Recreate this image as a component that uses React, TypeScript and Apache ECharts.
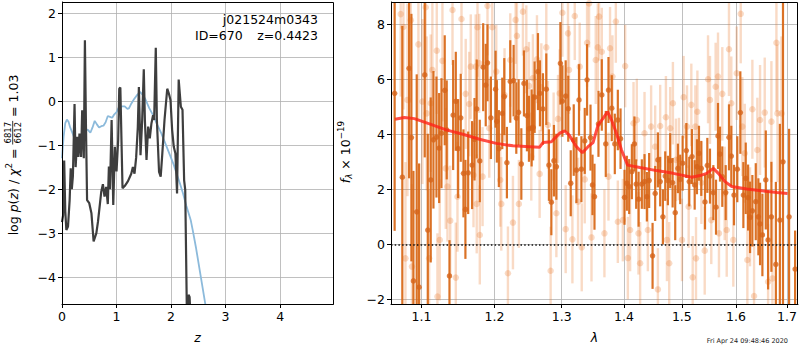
import React, { useEffect, useRef } from 'react';
import * as echarts from 'echarts';

const FONT = 'DejaVu Sans';

// ---------- Left panel: redshift probability ----------
const zTicks = [0, 1, 2, 3, 4];
const logpTicks = [-4, -3, -2, -1, 0, 1, 2];
// log p(z) (dark curve): [z, value]
const logPz: number[][] = [
  [0.0, -2.75], [0.02, -2.6], [0.04, -1.35], [0.06, -2.5], [0.08, -2.93], [0.11, -2.85], [0.14, -2.25],
  [0.16, -1.53], [0.18, -2.0], [0.2, -1.7], [0.23, -0.07], [0.25, -1.5], [0.28, -0.81], [0.3, -1.27],
  [0.32, -0.74], [0.35, -1.27], [0.37, -0.21], [0.4, -1.3], [0.42, 1.38], [0.44, -0.6], [0.46, -2.25],
  [0.5, -2.32], [0.54, -2.55], [0.58, -3.19], [0.63, -3.0], [0.66, -2.74], [0.72, -2.06], [0.75, -1.89],
  [0.78, -2.17], [0.81, -1.95], [0.84, -2.34], [0.86, -1.49], [0.88, -2.0], [0.91, -0.43], [0.94, -2.36],
  [0.97, -1.04], [1.0, -1.6], [1.03, -0.89], [1.05, 0.28], [1.07, 0.31], [1.11, -1.98], [1.15, -1.93],
  [1.21, -1.82], [1.27, -1.65], [1.3, -1.5], [1.33, -1.65], [1.36, -1.28], [1.39, -0.6], [1.41, 0.32],
  [1.44, -1.23], [1.47, -0.45], [1.5, 0.72], [1.52, -0.43], [1.55, -1.34], [1.58, -0.58], [1.61, -0.85],
  [1.64, -0.51], [1.67, -0.32], [1.69, -0.43], [1.72, 1.21], [1.74, -0.43], [1.78, -1.61], [1.81, -1.72],
  [1.84, -1.19], [1.88, -0.43], [1.93, 0.28], [1.96, 0.17], [1.99, 0.02], [2.02, -0.66], [2.05, -1.04],
  [2.08, -1.19], [2.11, -2.1], [2.14, 0.49], [2.18, -0.13], [2.21, -0.2], [2.24, -1.8], [2.26, -2.02],
  [2.29, -4.8], [2.32, -4.4], [2.34, -4.45], [2.36, -5.0], [2.4, -6.0],
];
// chi^2 curve (blue): [z, value]
const chi2Curve: number[][] = [
  [0.0, -1.3], [0.03, -0.8], [0.06, -0.5], [0.09, -0.42], [0.12, -0.47], [0.15, -0.6], [0.2, -0.75],
  [0.26, -0.98], [0.3, -1.06], [0.33, -1.0], [0.36, -0.89], [0.4, -0.72], [0.44, -0.64], [0.48, -0.66],
  [0.52, -0.72], [0.56, -0.6], [0.6, -0.45], [0.64, -0.53], [0.68, -0.6], [0.72, -0.57], [0.76, -0.56],
  [0.8, -0.48], [0.84, -0.34], [0.88, -0.36], [0.92, -0.38], [0.96, -0.3], [1.0, -0.25], [1.04, -0.15],
  [1.1, -0.12], [1.15, -0.12], [1.2, -0.18], [1.23, -0.16], [1.27, -0.06], [1.32, 0.04], [1.38, 0.14],
  [1.43, 0.21], [1.48, 0.14], [1.53, 0.04], [1.6, -0.16], [1.67, -0.32], [1.74, -0.52], [1.82, -0.73],
  [1.9, -0.98], [1.98, -1.23], [2.05, -1.45], [2.1, -1.64], [2.16, -1.86], [2.22, -2.1], [2.28, -2.38],
  [2.36, -2.7], [2.4, -2.95], [2.46, -3.35], [2.52, -3.8], [2.58, -4.25], [2.64, -4.7], [2.7, -5.2],
];

// ---------- Right panel: spectrum ----------
const lamTicks = [1.1, 1.2, 1.3, 1.4, 1.5, 1.6, 1.7];
const fluxTicks = [-2, 0, 2, 4, 6, 8];
// dark points: [lambda, flux, error]
const darkSpec: number[][] = [
  [1.0655, 5.49, 5.0], [1.0753, 2.44, 5.5], [1.084, 6.4, 4.0], [1.087, 3.88, 4.5], [1.0896, -1.33, 4.0],
  [1.0939, 1.18, 5.0], [1.097, -1.56, 4.5], [1.1044, 6.16, 3.0], [1.1084, 0.52, 3.5], [1.1123, 2.34, 3.0],
  [1.1159, 3.8, 2.5], [1.1199, 3.9, 2.2], [1.1235, 3.5, 2.0], [1.1266, 4.04, 2.0], [1.131, 5.6, 2.0],
  [1.1337, 4.16, 1.8], [1.1374, -1.15, 1.3], [1.1424, 4.7, 2.0], [1.146, 5.2, 1.8], [1.1492, 3.48, 1.8],
  [1.1528, 4.6, 1.6], [1.1565, 2.58, 1.6], [1.1592, 1.27, 1.8], [1.163, 2.6, 1.5], [1.1685, 2.88, 1.6],
  [1.1718, 3.82, 1.5], [1.1749, 4.92, 1.8], [1.1792, 3.03, 1.5], [1.184, 6.44, 1.6], [1.1876, 5.79, 1.5],
  [1.1901, 6.6, 1.4], [1.1949, 4.6, 1.5], [1.2016, 5.64, 1.4], [1.2034, 4.47, 1.5], [1.2063, 3.48, 1.4],
  [1.2112, 4.76, 1.3], [1.2141, 5.37, 1.4], [1.2179, 2.97, 1.3], [1.2228, 5.92, 1.5], [1.2277, 5.95, 1.3],
  [1.2316, 4.59, 1.3], [1.235, 4.8, 1.2], [1.239, 2.92, 1.3], [1.2429, 5.85, 1.2], [1.2473, 4.68, 1.3],
  [1.2503, 4.2, 1.2], [1.2543, 4.23, 1.4], [1.2565, 4.25, 1.2], [1.2588, 5.35, 1.3], [1.2638, 6.28, 1.4],
  [1.2668, 5.49, 1.2], [1.2713, 4.92, 1.3], [1.2764, 5.64, 1.3], [1.2804, 2.88, 1.3], [1.2841, 1.53, 1.2],
  [1.2881, 3.04, 1.3], [1.2918, 2.82, 1.2], [1.298, 6.58, 1.5], [1.3011, 5.21, 1.3], [1.3062, 5.39, 1.3],
  [1.3102, 4.93, 1.2], [1.3141, 2.22, 1.2], [1.3188, 3.79, 1.3], [1.323, 2.7, 1.2], [1.3271, 5.25, 1.3],
  [1.3309, 2.73, 1.2], [1.3362, 3.76, 1.2], [1.3399, 5.98, 1.3], [1.3454, 3.88, 1.2], [1.3486, 2.16, 1.1],
  [1.3518, 1.73, 1.2], [1.3582, 4.38, 1.2], [1.3636, 5.43, 1.3], [1.3701, 3.65, 1.2], [1.3745, 5.61, 1.2],
  [1.3799, 4.95, 1.2], [1.3849, 3.65, 1.1], [1.3899, 4.52, 1.1], [1.3944, 3.84, 1.1], [1.401, 1.71, 1.0],
  [1.4049, 2.22, 1.0], [1.4088, 2.1, 1.0], [1.4133, 2.64, 1.0], [1.4176, 3.65, 1.0], [1.4206, 2.19, 0.9],
  [1.4247, 1.64, 1.0], [1.4302, 2.19, 0.9], [1.4348, 2.28, 1.0], [1.4388, 1.73, 0.9], [1.4427, 2.32, 1.0],
  [1.4486, -0.42, 1.2], [1.4531, 1.85, 1.0], [1.4578, 3.07, 1.0], [1.4618, 2.28, 0.9], [1.4665, 1.0, 1.0],
  [1.4706, 2.48, 0.9], [1.4753, 2.32, 0.9], [1.4793, 3.04, 1.0], [1.4836, 2.24, 0.9], [1.4882, 1.15, 1.0],
  [1.493, 2.76, 0.9], [1.4971, 2.36, 0.9], [1.5014, 2.95, 1.0], [1.508, 3.41, 1.0], [1.5133, 2.28, 0.9],
  [1.5182, 3.19, 1.0], [1.5231, 2.16, 0.9], [1.5272, 2.82, 1.0], [1.5309, 3.31, 1.0], [1.5351, 2.76, 1.0],
  [1.5419, 1.54, 1.0], [1.5462, 2.87, 1.0], [1.5511, 2.48, 1.0], [1.5573, 1.88, 1.0], [1.5623, 1.35, 1.0],
  [1.566, 3.94, 1.2], [1.5697, 3.28, 1.0], [1.574, 2.46, 1.1], [1.5804, 1.88, 1.0], [1.5866, 3.89, 1.2],
  [1.591, 3.21, 1.1], [1.5961, 1.79, 1.1], [1.6024, 2.73, 1.2], [1.6082, 4.79, 1.5], [1.614, 1.79, 1.2],
  [1.6186, 2.4, 1.3], [1.6231, 1.7, 1.2], [1.6269, 0.98, 1.3], [1.6314, 1.22, 1.3], [1.638, 1.55, 1.4],
  [1.6431, 1.0, 1.4], [1.6464, 0.74, 1.5], [1.651, 0.34, 1.5], [1.6577, 2.34, 1.8], [1.6622, 0.16, 1.8],
  [1.6688, 1.0, 2.0], [1.6777, -0.73, 3.0], [1.6857, 0.88, 3.5], [1.692, 3.0, 6.0], [1.7043, 1.0, 3.2],
  [1.7166, -0.9, 1.4],
];
// light (second spectrum) points: [lambda, flux, error]
const lightSpec: number[][] = [
  [1.0732, 8.37, 3.0], [1.0767, 7.9, 3.0], [1.0793, -0.51, 3.5], [1.0819, 5.25, 3.5], [1.0862, 8.15, 3.0],
  [1.0877, -0.81, 3.0], [1.0961, 7.27, 2.8], [1.1013, 5.19, 3.0], [1.1057, 8.62, 2.5], [1.107, 4.76, 2.8],
  [1.1102, -0.51, 2.5], [1.1123, 5.13, 2.5], [1.1145, 6.34, 2.5], [1.1203, 7.04, 2.3], [1.1212, -1.9, 2.3],
  [1.1243, 0.16, 2.2], [1.1279, 6.67, 2.2], [1.1324, 2.76, 2.2], [1.1347, 2.1, 2.0], [1.1384, 0.86, 2.0],
  [1.1415, 8.52, 2.0], [1.146, -1.21, 2.0], [1.1483, 1.73, 2.0], [1.1538, 8.19, 2.0], [1.1596, 5.47, 2.0],
  [1.1644, 5.1, 1.9], [1.1666, 6.46, 1.9], [1.1704, 2.52, 1.9], [1.1735, 6.46, 1.9], [1.1749, 1.47, 1.8],
  [1.176, 7.89, 1.8], [1.1784, 6.58, 1.8], [1.1792, 0.34, 1.8], [1.1831, 2.46, 1.8], [1.1901, 8.67, 1.8],
  [1.1926, 4.22, 1.8], [1.1969, 7.89, 1.8], [1.2026, 6.28, 1.7], [1.2083, 2.34, 1.7], [1.2098, 1.47, 1.7],
  [1.2145, 5.43, 1.7], [1.2194, -1.05, 1.7], [1.2228, 6.7, 1.7], [1.2267, 0.79, 1.7], [1.2306, 8.16, 1.6],
  [1.2325, 7.58, 1.6], [1.2354, 1.47, 1.6], [1.2414, 8.46, 1.6], [1.2464, 7.09, 1.6], [1.2503, 5.76, 1.6],
  [1.2538, 3.19, 1.6], [1.2562, 6.04, 1.6], [1.2623, 6.73, 1.6], [1.2663, 2.56, 1.6], [1.2689, 5.71, 1.6],
  [1.2764, 7.16, 1.6], [1.2789, 4.34, 1.6], [1.283, -0.96, 1.6], [1.2876, 3.92, 1.6], [1.2918, 1.13, 1.6],
  [1.2943, 4.56, 1.6], [1.2969, 5.49, 1.6], [1.3011, 8.42, 1.6], [1.3062, 0.55, 1.6], [1.3098, 7.67, 1.6],
  [1.3114, 6.34, 1.6], [1.3167, 0.18, 1.6], [1.3204, 8.3, 1.6], [1.3256, 1.55, 1.6], [1.3282, 6.46, 1.6],
  [1.3314, -0.11, 1.6], [1.3362, 2.36, 1.6], [1.3399, 7.33, 1.6], [1.3431, 8.76, 1.6], [1.347, 0.25, 1.6],
  [1.3538, 6.7, 1.6], [1.3571, 7.16, 1.6], [1.3592, 8.28, 1.6], [1.3636, 7.0, 1.6], [1.3679, 0.4, 1.6],
  [1.3745, 2.46, 1.6], [1.3771, 7.13, 1.5], [1.381, 6.1, 1.5], [1.3866, 8.1, 1.5], [1.3899, 0.82, 1.5],
  [1.3982, 0.88, 1.5], [1.4021, 6.48, 1.5], [1.4066, -0.5, 1.5], [1.4104, 0.52, 1.5], [1.4161, 4.4, 1.5],
  [1.4217, 4.52, 1.5], [1.4245, 0.4, 1.5], [1.4273, -0.69, 1.5], [1.4348, 4.04, 1.5], [1.4405, 0.52, 1.5],
  [1.4461, 4.28, 1.5], [1.4531, 3.55, 1.5], [1.4578, -1.64, 1.5], [1.4618, 4.3, 1.5], [1.4718, 4.62, 1.5],
  [1.4736, 0.16, 1.5], [1.4776, -0.69, 1.5], [1.4793, 4.22, 1.5], [1.4841, 5.13, 1.5], [1.4895, 3.07, 1.5],
  [1.4948, 3.1, 1.5], [1.5002, 0.16, 1.5], [1.5032, 5.35, 1.5], [1.5092, 4.28, 1.5], [1.5122, 1.37, 1.5],
  [1.517, 5.07, 1.5], [1.5195, -1.2, 1.5], [1.5243, 4.28, 1.5], [1.5255, -0.51, 1.5], [1.528, 4.82, 1.5],
  [1.5353, 2.24, 1.5], [1.5414, -0.23, 1.6], [1.5475, 6.0, 1.6], [1.5511, 5.25, 1.6], [1.5535, 0.88, 1.6],
  [1.5616, 5.73, 1.6], [1.566, 6.1, 1.6], [1.5678, 0.4, 1.6], [1.574, 5.47, 1.7], [1.5785, 1.85, 1.7],
  [1.5823, 0.52, 1.7], [1.5866, 7.09, 1.7], [1.591, 5.13, 1.7], [1.5948, 0.16, 1.7], [1.6013, 6.22, 1.7],
  [1.6089, 8.38, 1.8], [1.612, 4.28, 1.8], [1.6167, 3.31, 1.8], [1.6217, -0.57, 1.8], [1.6269, 1.0, 1.8],
  [1.6314, 4.91, 1.8], [1.6347, -1.88, 1.9], [1.6411, 3.43, 1.9], [1.6464, 4.52, 2.0], [1.6556, 4.79, 2.0],
  [1.6622, -1.36, 2.1], [1.6688, 4.46, 2.2], [1.6708, -1.24, 2.2], [1.6788, 7.33, 2.5], [1.6809, 4.76, 2.5],
  [1.689, 4.76, 2.8],
];
// best-fit model (red): [lambda, flux]
const modelSpec: number[][] = [
  [1.066, 4.55], [1.0779, 4.61], [1.0909, 4.57], [1.1106, 4.38], [1.1329, 4.16], [1.1556, 4.0],
  [1.1788, 3.82], [1.2026, 3.67], [1.2267, 3.58], [1.2513, 3.55], [1.2663, 3.53], [1.2714, 3.7],
  [1.2841, 3.73], [1.2969, 4.04], [1.3047, 4.12], [1.3114, 3.98], [1.323, 3.55], [1.3325, 3.33],
  [1.3415, 3.55], [1.3495, 3.7], [1.3576, 4.34], [1.3657, 4.58], [1.3729, 4.82], [1.3795, 4.52],
  [1.3876, 4.04], [1.396, 3.43], [1.4061, 2.88], [1.4269, 2.79], [1.4556, 2.68], [1.4847, 2.58],
  [1.5177, 2.44], [1.5328, 2.5], [1.545, 2.58], [1.5573, 2.76], [1.5666, 2.58], [1.5792, 2.28],
  [1.5919, 2.1], [1.6207, 2.01], [1.653, 1.94], [1.6797, 1.88], [1.7011, 1.85],
];

const Z_RANGE = [0, 4.97];
const LOGP_RANGE = [-4.61, 2.25];
const LAM_RANGE = [1.0609, 1.7225];
const FLUX_RANGE = [-2.17, 8.81];

const minus = (v: number | string) => String(v).replace('-', '\u2212');

function axisCommon(ticks: number[], fmt: (v: any) => string) {
  return {
    axisLine: { show: true, onZero: false, lineStyle: { color: '#000', width: 1 } },
    axisTick: { show: true, length: 4, inside: false, customValues: ticks, lineStyle: { color: '#000', width: 1 } },
    axisLabel: {
      show: true, customValues: ticks, formatter: fmt, color: '#000',
      fontSize: 12.5, fontFamily: FONT, margin: 6,
    },
    splitLine: { show: true, lineStyle: { color: '#b0b0b0', width: 0.8 } },
  };
}

function errBars(color: string, width: number) {
  return (params: any, api: any) => {
    const x = api.value(0);
    const y = api.value(1);
    const e = api.value(2);
    const lo = Math.max(y - e, FLUX_RANGE[0]);
    const hi = Math.min(y + e, FLUX_RANGE[1]);
    if (lo >= hi) return null;
    const p1 = api.coord([x, lo]);
    const p2 = api.coord([x, hi]);
    return {
      type: 'line',
      shape: { x1: p1[0], y1: p1[1], x2: p2[0], y2: p2[1] },
      style: { stroke: color, lineWidth: width },
    };
  };
}

type Seg = { text?: string; italic?: boolean; size: number; dy?: number; num?: string; den?: string };

export default function App() {
  const ref = useRef<HTMLDivElement>(null);
  useEffect(() => {
    if (!ref.current) return;
    const chart = echarts.init(ref.current, null, { renderer: 'svg' });

    const ctx = document.createElement('canvas').getContext('2d')!;
    const fontOf = (s: Seg) => `${s.italic ? 'italic ' : ''}${s.size}px "${FONT}"`;
    const tw = (t: string, f: string) => { ctx.font = f; return ctx.measureText(t).width; };
    const txt = (text: string, x: number, y: number, font: string, align = 'left', fill = '#000') => ({
      type: 'text', x, y, silent: true, z: 50,
      style: { text, font, fill, opacity: 1, align, verticalAlign: 'middle', textAlign: align, textVerticalAlign: 'middle' },
    });

    const rotLabel = (segs: Seg[], cx: number, cy: number) => {
      let x = 0;
      const children: any[] = [];
      for (const s of segs) {
        const f = fontOf(s);
        if (s.num && s.den) {
          const w = Math.max(tw(s.num, f), tw(s.den, f)) + 2;
          children.push(txt(s.num, x + w / 2, -5.5, f, 'center'));
          children.push(txt(s.den, x + w / 2, 4.3, f, 'center'));
          children.push({ type: 'line', silent: true, shape: { x1: x, y1: -0.8, x2: x + w, y2: -0.8 }, style: { stroke: '#000', lineWidth: 0.8 } });
          x += w;
        } else {
          children.push(txt(s.text!, x, s.dy || 0, f));
          x += tw(s.text!, f);
        }
      }
      return { type: 'group', x: cx, y: cy + x / 2, rotation: Math.PI / 2, children };
    };

    const leftLabel = rotLabel([
      { text: 'log ', size: 12.5 },
      { text: 'p', size: 12.5, italic: true },
      { text: '(', size: 12.5 },
      { text: 'z', size: 12.5, italic: true },
      { text: ') / ', size: 12.5 },
      { text: '\u03c7', size: 12.5, italic: true },
      { text: '2', size: 8.75, dy: -4.5 },
      { text: ' = ', size: 12.5 },
      { num: '6817', den: '6612', size: 8.5 },
      { text: ' = 1.03', size: 12.5 },
    ], 13.5, 155);

    const rightLabel = rotLabel([
      { text: 'f', size: 12.5, italic: true },
      { text: '\u03bb', size: 8.75, italic: true, dy: 3.5 },
      { text: ' \u00d7 10', size: 12.5 },
      { text: '\u221219', size: 8.75, dy: -4.5 },
    ], 345, 152);

    const nameStyle = { fontStyle: 'italic', fontSize: 12.5, fontFamily: FONT, color: '#000' };

    const option: any = {
      animation: false,
      backgroundColor: '#fff',
      grid: [
        { left: 62, top: 2, width: 271, height: 302, show: false, containLabel: false, outerBoundsMode: 'none' },
        { left: 391, top: 2, width: 407, height: 302, show: false, containLabel: false, outerBoundsMode: 'none' },
      ],
      xAxis: [
        {
          gridIndex: 0, type: 'value', min: Z_RANGE[0], max: Z_RANGE[1],
          ...axisCommon(zTicks, (v: any) => minus(v)),
          name: 'z', nameLocation: 'middle', nameGap: 27, nameMoveOverlap: false, nameTextStyle: nameStyle,
        },
        {
          gridIndex: 1, type: 'log', logBase: 10, min: LAM_RANGE[0], max: LAM_RANGE[1],
          ...axisCommon(lamTicks, (v: any) => Number(v).toFixed(1)),
          name: '\u03bb', nameLocation: 'middle', nameGap: 27, nameMoveOverlap: false, nameTextStyle: nameStyle,
        },
      ],
      yAxis: [
        {
          gridIndex: 0, type: 'value', min: LOGP_RANGE[0], max: LOGP_RANGE[1],
          ...axisCommon(logpTicks, (v: any) => minus(v)),
        },
        {
          gridIndex: 1, type: 'value', min: FLUX_RANGE[0], max: FLUX_RANGE[1],
          ...axisCommon(fluxTicks, (v: any) => minus(v)),
        },
      ],
      series: [
        {
          type: 'line', xAxisIndex: 0, yAxisIndex: 0, data: chi2Curve, symbol: 'none', showSymbol: false,
          lineStyle: { color: '#8cbadb', width: 1.8 }, z: 2, silent: true, clip: true,
        },
        {
          type: 'line', xAxisIndex: 0, yAxisIndex: 0, data: logPz, symbol: 'none', showSymbol: false,
          lineStyle: { color: '#3e3e3e', width: 2.2 }, z: 3, silent: true, clip: true,
        },
        {
          type: 'custom', xAxisIndex: 1, yAxisIndex: 1, data: lightSpec, encode: { x: 0, y: 1 },
          renderItem: errBars('rgba(232,122,45,0.28)', 2.4), z: 2, silent: true, clip: true,
        },
        {
          type: 'scatter', xAxisIndex: 1, yAxisIndex: 1, data: lightSpec.map((d) => [d[0], d[1]]),
          symbolSize: 6.5, itemStyle: { color: 'rgba(232,122,45,0.35)' }, z: 3, silent: true,
        },
        {
          type: 'custom', xAxisIndex: 1, yAxisIndex: 1, data: darkSpec, encode: { x: 0, y: 1 },
          renderItem: errBars('rgba(216,102,20,0.92)', 2.2), z: 4, silent: true, clip: true,
        },
        {
          type: 'scatter', xAxisIndex: 1, yAxisIndex: 1, data: darkSpec.map((d) => [d[0], d[1]]),
          symbolSize: 5.5, itemStyle: { color: '#d6641a' }, z: 5, silent: true,
        },
        {
          type: 'line', xAxisIndex: 1, yAxisIndex: 1, data: modelSpec, symbol: 'none', showSymbol: false,
          lineStyle: { color: 'rgba(255,35,25,0.8)', width: 3 }, z: 6, silent: true,
          markLine: {
            silent: true, symbol: 'none', label: { show: false },
            lineStyle: { color: '#111', type: [1.5, 2.2], width: 1.6 },
            data: [{ yAxis: 0 }],
          },
        },
      ],
      graphic: [
        { type: 'rect', silent: true, z: 100, shape: { x: 62.5, y: 2.5, width: 271, height: 302 }, style: { fill: 'none', stroke: '#000', lineWidth: 1 } },
        { type: 'rect', silent: true, z: 100, shape: { x: 391.5, y: 2.5, width: 406, height: 302 }, style: { fill: 'none', stroke: '#000', lineWidth: 1 } },
        txt('j021524m0343', 318, 19.5, `12.5px "${FONT}"`, 'right'),
        txt('ID=670', 195, 35, `12.5px "${FONT}"`, 'left'),
        txt('z=0.4423', 318, 35, `12.5px "${FONT}"`, 'right'),
        txt('Fri Apr 24 09:48:46 2020', 788, 341, `6.5px "${FONT}"`, 'right', '#1a1a1a'),
        leftLabel,
        rightLabel,
      ],
    };

    chart.setOption(option);
    return () => chart.dispose();
  }, []);

  return <div ref={ref} style={{ position: 'absolute', left: 0, top: 0, width: 800, height: 350 }} />;
}
